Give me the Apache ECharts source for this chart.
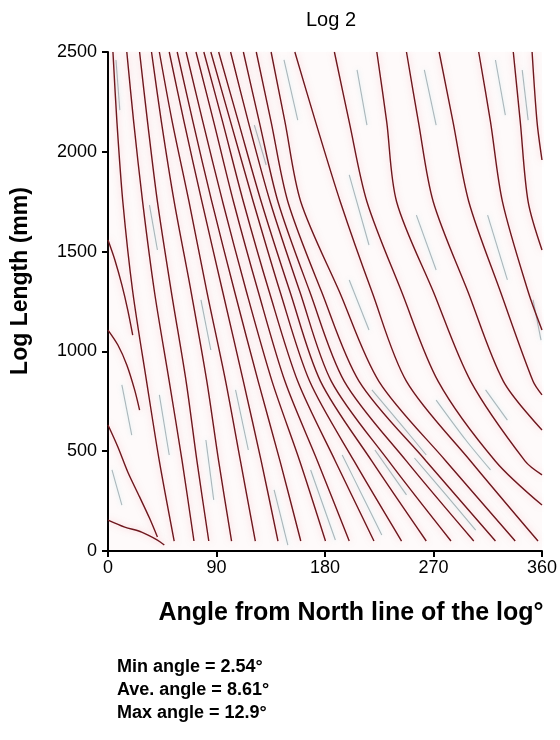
<!DOCTYPE html>
<html>
<head>
<meta charset="utf-8">
<script src="https://cdn.jsdelivr.net/npm/echarts@6/dist/echarts.min.js"></script>
<style>html,body{margin:0;padding:0;background:#fff}#c{width:560px;height:740px}</style>
</head>
<body>
<div id="c"></div>
<script>
// Tick labels
const xTicks = [0, 90, 180, 270, 360];
const yTicks = [0, 500, 1000, 1500, 2000, 2500];
// Log length levels (mm) at which the grain lines are read
const levels = [2500, 2150, 1750, 1300, 850, 450, 50];
// Red grain lines: angle (deg) at each level (null = line has left the log)
const redGrain = [
  [4.1, 7.4, 12.3, 20.5, 32.0, 42.6, 54.9],
  [15.6, 21.3, 28.7, 38.5, 50.8, 61.5, 71.3],
  [26.2, 32.8, 41.0, 52.5, 64.8, 73.8, 83.6],
  [36.1, 44.3, 54.9, 68.9, 82.0, 91.8, 102.5],
  [42.6, 53.3, 67.2, 82.0, 97.6, 109.9, 122.2],
  [50.8, 63.1, 77.9, 95.1, 112.3, 127.1, 141.0],
  [57.4, 70.5, 86.1, 105.0, 124.6, 142.7, 159.9],
  [64.8, 78.7, 95.1, 114.8, 136.1, 159.1, 180.4],
  [73.0, 87.7, 104.1, 124.6, 146.8, 173.8, 200.1],
  [79.5, 95.1, 112.3, 133.7, 157.4, 188.6, 220.6],
  [85.3, 101.7, 120.5, 142.7, 167.3, 204.2, 243.5],
  [91.8, 108.2, 127.1, 150.9, 176.3, 218.9, 264.0],
  [101.7, 116.4, 134.5, 159.1, 185.3, 232.9, 284.5],
  [112.3, 125.5, 141.0, 167.3, 196.0, 247.6, 303.4],
  [123.0, 135.3, 149.2, 177.1, 208.3, 264.0, 321.4],
  [135.3, 146.8, 159.9, 191.9, 224.7, 280.4, 337.8],
  [155.0, 172.2, 192.7, 218.9, 247.6, 300.9, 356.7],
  [187.8, 200.1, 214.8, 243.5, 273.9, 321.4, null],
  [223.0, 231.2, 239.4, 269.8, 300.9, 346.0, null],
  [247.6, 257.5, 269.8, 298.5, 328.0, null, null],
  [274.7, 286.2, 299.3, 325.5, 352.6, null, null],
  [307.5, 317.3, 327.2, 348.5, null, null, null],
  [336.2, 342.0, 348.5, null, null, null, null],
  [351.8, 355.9, null, null, null, null, null]
];
// Where lines leave through the right edge: [angle, length]
const redExit = [
  [360, 230], [360, 381], [360, 606], [360, 782], [360, 1107], [360, 1508], [360, 1959]
];
const redExitLine = [17, 18, 19, 20, 21, 22, 23];
// Curved lines entering from the left edge: [angle, length]
const redCurves = [
  [[0, 1558], [5.7, 1458], [11.5, 1333], [16.4, 1207], [20.5, 1082]],
  [[0, 1107], [8.2, 1032], [15.6, 932], [22.1, 807], [26.2, 706]],
  [[0, 631], [8.2, 521], [16.4, 396], [26.2, 271], [34.4, 165], [41.0, 70]],
  [[0, 155], [13.9, 120], [27.9, 95], [41.0, 55], [46.7, 30]]
];
// Faint grey grain traces: [angle, length]
const greyGrain = [
  [[6.6, 2460], [9.8, 2209]],
  [[34.4, 1733], [41.0, 1508]],
  [[105.8, 807], [116.4, 506]],
  [[81.2, 556], [87.7, 256]],
  [[42.6, 782], [50.8, 481]],
  [[121.4, 2134], [131.2, 1934]],
  [[146.0, 2460], [157.4, 2159]],
  [[200.1, 1884], [216.5, 1533]],
  [[206.6, 2410], [214.8, 2134]],
  [[255.8, 1683], [272.2, 1408]],
  [[262.4, 2410], [272.2, 2134]],
  [[314.9, 1683], [331.3, 1358]],
  [[321.4, 2460], [329.6, 2184]],
  [[343.6, 2410], [348.5, 2159]],
  [[352.6, 1258], [359.2, 1057]],
  [[218.9, 807], [243.5, 631], [264.0, 481]],
  [[272.2, 756], [296.8, 556], [317.3, 406]],
  [[313.2, 807], [331.3, 656]],
  [[194.3, 481], [210.7, 281], [227.1, 80]],
  [[168.1, 406], [188.6, 55]],
  [[137.8, 306], [149.2, 30]],
  [[200.1, 1358], [216.5, 1107]],
  [[221.4, 506], [247.6, 281]],
  [[77.1, 1258], [85.3, 1007]],
  [[3.3, 406], [11.5, 230]],
  [[11.5, 832], [19.7, 581]],
  [[254.2, 466], [280.4, 281], [305.0, 105]]
];
const statLines = ['Min angle = 2.54\u00b0', 'Ave. angle = 8.61\u00b0', 'Max angle = 12.9\u00b0'];

const FONT = '"Liberation Sans", Arial, sans-serif';
const redStyle = { color: '#6e171d', width: 1.4, shadowColor: 'rgba(240,130,145,0.5)', shadowBlur: 6 };
const greyStyle = { color: '#aab6ba', width: 1.1, shadowColor: 'rgba(160,225,235,0.5)', shadowBlur: 4 };

const series = [];
greyGrain.forEach(function (pts) {
  series.push({ type: 'line', data: pts, showSymbol: false, silent: true, smooth: 0.3, lineStyle: greyStyle, z: 2 });
});
redGrain.forEach(function (xs, i) {
  const pts = [];
  xs.forEach(function (x, j) { if (x !== null) pts.push([x, levels[j]]); });
  const k = redExitLine.indexOf(i);
  if (k >= 0) pts.push(redExit[k]);
  series.push({ type: 'line', data: pts, showSymbol: false, silent: true, smooth: 0.3, lineStyle: redStyle, z: 3 });
});
redCurves.forEach(function (pts) {
  series.push({ type: 'line', data: pts, showSymbol: false, silent: true, smooth: 0.3, lineStyle: redStyle, z: 3 });
});

const chart = echarts.init(document.getElementById('c'), null, { renderer: 'canvas' });
chart.setOption({
  animation: false,
  backgroundColor: '#ffffff',
  textStyle: { fontFamily: FONT },
  grid: { left: 108, right: 13, top: 52, bottom: 189, show: true, backgroundColor: '#fefafa', borderWidth: 0 },
  xAxis: {
    type: 'value', min: xTicks[0], max: xTicks[xTicks.length - 1], interval: 90,
    axisLine: { lineStyle: { color: '#000', width: 2 } },
    axisTick: { show: true, length: 6, lineStyle: { color: '#000', width: 2 } },
    axisLabel: { color: '#000', fontSize: 18, fontFamily: FONT, margin: 8, formatter: function (v) { return String(v); } },
    splitLine: { show: false }
  },
  yAxis: {
    type: 'value', min: yTicks[0], max: yTicks[yTicks.length - 1], interval: 500,
    axisLine: { show: true, lineStyle: { color: '#000', width: 2 } },
    axisTick: { show: true, length: 6, lineStyle: { color: '#000', width: 2 } },
    axisLabel: { color: '#000', fontSize: 18, fontFamily: FONT, margin: 11, formatter: function (v) { return String(v); } },
    splitLine: { show: false }
  },
  series: series,
  graphic: [
    { type: 'text', x: 331, y: 20, style: { text: 'Log 2', fill: '#000', font: '20px ' + FONT, textAlign: 'center', textVerticalAlign: 'middle' } },
    { type: 'text', x: 21, y: 281, rotation: Math.PI / 2, style: { text: 'Log Length (mm)', fill: '#000', font: 'bold 23px ' + FONT, textAlign: 'center', textVerticalAlign: 'middle' } },
    { type: 'text', x: 351, y: 613, style: { text: 'Angle from North line of the log\u00b0', fill: '#000', font: 'bold 25px ' + FONT, textAlign: 'center', textVerticalAlign: 'middle' } },
    { type: 'text', x: 117, y: 667, style: { text: statLines[0], fill: '#000', font: 'bold 18px ' + FONT, textAlign: 'left', textVerticalAlign: 'middle' } },
    { type: 'text', x: 117, y: 690, style: { text: statLines[1], fill: '#000', font: 'bold 18px ' + FONT, textAlign: 'left', textVerticalAlign: 'middle' } },
    { type: 'text', x: 117, y: 713, style: { text: statLines[2], fill: '#000', font: 'bold 18px ' + FONT, textAlign: 'left', textVerticalAlign: 'middle' } }
  ]
});
</script>
</body>
</html>
